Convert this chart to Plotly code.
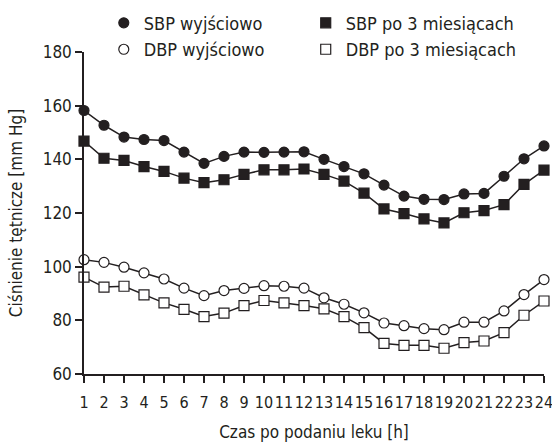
import plotly.graph_objects as go

hours = list(range(1, 25))
tick_labels = [str(h) for h in hours]

sbp_base = [158.2, 152.7, 148.3, 147.4, 147.0, 142.7, 138.5, 141.1, 142.7, 142.6, 142.7, 142.8,
            140.0, 137.3, 134.6, 130.4, 126.3, 125.1, 125.0, 127.1, 127.3, 133.7, 140.2, 145.0]
sbp_3m = [146.8, 140.4, 139.6, 137.3, 135.5, 133.0, 131.3, 132.4, 134.4, 136.1, 136.1, 136.4,
          134.4, 131.9, 127.4, 121.5, 119.8, 117.8, 116.3, 120.1, 120.9, 123.1, 130.7, 136.0]
dbp_base = [102.6, 101.6, 99.8, 97.7, 95.4, 92.0, 89.2, 91.1, 91.9, 92.9, 92.7, 92.0,
            88.4, 86.0, 82.8, 79.0, 78.0, 76.9, 76.5, 79.3, 79.3, 83.5, 89.6, 95.2]
dbp_3m = [96.1, 92.4, 92.7, 89.5, 86.5, 84.1, 81.4, 82.7, 85.5, 87.4, 86.5, 85.5,
          84.3, 81.4, 77.3, 71.4, 70.7, 70.7, 69.6, 71.7, 72.3, 75.4, 81.9, 87.2]

INK = "#231f20"
FONT = "DejaVu Sans Condensed, Liberation Sans Narrow, sans-serif"

fig = go.Figure()

series = [
    ("SBP wyjściowo", sbp_base, "circle", True, "legend"),
    ("SBP po 3 miesiącach", sbp_3m, "square", True, "legend2"),
    ("DBP wyjściowo", dbp_base, "circle", False, "legend"),
    ("DBP po 3 miesiącach", dbp_3m, "square", False, "legend2"),
]

# connecting lines (not shown in legend)
for name, y, symbol, filled, legend in series:
    fig.add_trace(go.Scatter(
        x=hours, y=y, mode="lines", showlegend=False, hoverinfo="skip",
        line=dict(color=INK, width=1.5), cliponaxis=False,
    ))

# markers (shown in legend)
for name, y, symbol, filled, legend in series:
    fig.add_trace(go.Scatter(
        x=hours, y=y, name=name, mode="markers", legend=legend,
        marker=dict(symbol=symbol, size=10,
                    color=INK if filled else "white",
                    line=dict(color=INK, width=1.2)),
        cliponaxis=False,
    ))

legend_style = dict(orientation="v", y=1.147, xanchor="left", yanchor="top",
                    font=dict(family=FONT, size=18, color=INK),
                    bgcolor="rgba(0,0,0,0)", itemclick=False, tracegroupgap=0)

fig.update_layout(
    width=552, height=442,
    margin=dict(l=84, r=8, t=52, b=68, autoexpand=False),
    paper_bgcolor="white", plot_bgcolor="white",
    font=dict(family=FONT, size=17, color=INK),
    showlegend=True,
    legend=dict(x=0.043, **legend_style),
    legend2=dict(x=0.482, **legend_style),
    xaxis=dict(range=[1, 24], tickmode="array", tickvals=hours, ticktext=tick_labels,
               tickangle=0, ticklabeloverflow="allow", ticklabelstandoff=6,
               showgrid=False, zeroline=False, showline=True, linecolor=INK, linewidth=1.5,
               ticks="outside", ticklen=7, tickwidth=1.5, tickcolor=INK,
               tickfont=dict(family=FONT, size=16, color=INK),
               title=dict(text="Czas po podaniu leku [h]", standoff=17,
                          font=dict(family=FONT, size=17, color=INK))),
    yaxis=dict(range=[60, 180], tickvals=[60, 80, 100, 120, 140, 160, 180],
               showgrid=False, zeroline=False, showline=True, linecolor=INK, linewidth=1.5,
               ticks="outside", ticklen=7, tickwidth=1.5, tickcolor=INK,
               tickfont=dict(family=FONT, size=17, color=INK),
               title=dict(text="Ciśnienie tętnicze [mm Hg]", standoff=16,
                          font=dict(family=FONT, size=17, color=INK))),
)

fig.write_html("out.html", config={"displayModeBar": False},
               post_script="document.body.style.margin='0px';")
